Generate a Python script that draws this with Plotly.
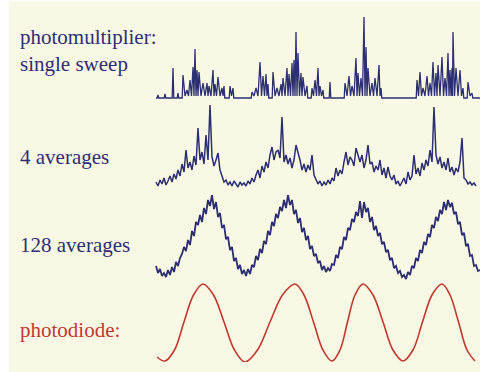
import numpy as np
import plotly.graph_objects as go

# ---------------- data (time in ms, signal heights in arbitrary units) ----------------
# single sweep: spike times (ms) and heights
sweep_t = [0.3, 1.0, 1.8, 2.3, 2.8, 3.2, 3.5, 3.8, 4.0, 4.2, 4.4, 4.8, 5.2, 5.4, 5.8, 6.0, 6.3, 6.7, 6.9, 7.5, 7.8,
           9.7, 10.1, 10.5, 10.8, 11.1, 11.3, 11.8, 12.2, 12.6, 12.8, 13.2, 13.4, 13.7, 13.9, 14.1, 14.3, 14.6, 14.8,
           15.2, 15.7, 16.0, 16.3, 16.5, 16.8, 17.5,
           19.0, 19.4, 19.7, 20.1, 20.3, 20.6, 20.9, 21.1, 21.3, 21.7, 22.0, 22.4, 22.6,
           26.2, 26.5, 26.8, 27.2, 27.5, 27.8, 28.1, 28.3, 28.7, 29.0, 29.3, 29.5, 29.7, 29.8, 30.1, 30.5, 30.8,
           31.3, 31.7]
sweep_h = [3, 4, 30, 5, 23, 8, 18, 31, 49, 28, 26, 15, 15, 12, 28, 14, 21, 10, 12, 12, 10,
           6, 10, 36, 22, 24, 14, 26, 10, 14, 20, 30, 24, 35, 38, 66, 45, 25, 21,
           12, 10, 18, 30, 12, 8, 16,
           15, 22, 12, 40, 25, 20, 81, 51, 30, 15, 20, 33, 10,
           18, 26, 10, 22, 15, 36, 25, 33, 41, 20, 45, 28, 30, 66, 30, 28, 10,
           16, 5]

# 4 averages: sampled every 0.2 ms from 0.1 ms
avg4 = [8, 4, 10, 6, 12, 5, 9, 14, 8, 16, 11, 20, 14, 26, 18, 40, 22, 28, 20, 34,
        25, 62, 30, 38, 26, 55, 30, 85, 33, 24, 30, 37, 20, 15, 8, 10, 5, 8, 4, 9,
        6, 3, 8, 5, 7, 4, 9, 6, 12, 8, 15, 20, 12, 24, 18, 28, 22, 35, 43, 30,
        38, 40, 32, 73, 28, 35, 26, 32, 22, 30, 45, 38, 30, 20, 26, 18, 25, 20, 35, 15,
        10, 6, 9, 4, 8, 5, 10, 6, 12, 9, 22, 14, 20, 16, 28, 38, 25, 33, 30, 24,
        42, 36, 28, 35, 22, 30, 45, 26, 28, 18, 24, 20, 30, 15, 22, 12, 23, 14, 10, 15,
        6, 9, 4, 8, 12, 6, 18, 10, 14, 35, 16, 22, 14, 27, 20, 30, 24, 40, 28, 83,
        35, 26, 33, 22, 28, 20, 32, 18, 23, 15, 22, 18, 28, 52, 12, 10, 6, 8, 5, 7, 4]

# 128 averages: sampled every 0.2 ms from 0.1 ms
avg128 = [14, 7, 11, 4, 7, 3, 10, 5, 13, 8, 18, 14, 22, 26, 33, 29, 40, 35, 49, 44,
          58, 55, 65, 58, 72, 66, 80, 74, 85, 71, 78, 63, 67, 52, 55, 41, 43, 30, 33, 19,
          22, 11, 15, 6, 10, 4, 11, 6, 15, 13, 24, 20, 31, 27, 39, 36, 49, 45, 58, 54,
          66, 62, 73, 69, 80, 72, 85, 75, 80, 66, 70, 57, 62, 48, 52, 40, 44, 31, 34, 24,
          26, 17, 19, 10, 14, 8, 12, 9, 16, 15, 25, 22, 33, 31, 43, 40, 52, 50, 61, 58,
          68, 64, 79, 62, 78, 68, 72, 58, 63, 50, 54, 44, 47, 36, 38, 28, 30, 20, 22, 12,
          14, 7, 9, 3, 5, 1, 8, 5, 14, 12, 22, 19, 30, 27, 38, 35, 46, 43, 55, 52,
          63, 59, 70, 66, 78, 70, 80, 73, 77, 66, 68, 56, 58, 45, 47, 34, 36, 24, 25, 14,
          15, 9, 10]

# photodiode: smooth reference signal, read at extrema and intermediate points
diode_t = [0.2, 1.0, 1.95, 2.9, 3.85, 4.8, 5.85, 6.9, 7.95, 9.0, 10.25, 11.5, 12.75, 14.0,
           14.9, 15.85, 16.8, 17.7, 18.5, 19.25, 20.0, 20.8, 21.8, 22.8, 23.8, 24.8,
           25.8, 26.75, 27.7, 28.7, 29.5, 30.35, 31.2, 32.0]
diode_h = [5, 1, 12, 40, 67, 78, 67, 40, 12, 0, 12, 40, 67, 78,
           67, 40, 12, 1, 12, 40, 67, 78, 67, 40, 12, 1,
           12, 40, 67, 78, 67, 40, 12, 1]

labels = ["photomultiplier:<br>single sweep", "4 averages", "128 averages", "photodiode:"]

# ---------------- build ----------------
navy = "#2c2f72"
red = "#c0392f"
cream = "#f9f8e4"

# single sweep polyline (spikes over a flat baseline)
sx, sy = [0.1], [0]
prev = -1.0
for t, h in zip(sweep_t, sweep_h):
    if t - prev > 0.45:
        sx += [max(prev + 0.08, 0.1), t - 0.08]
        sy += [0, 0]
    else:
        sx.append((prev + t) / 2)
        sy.append(2)
    sx.append(t)
    sy.append(h)
    prev = t
sx += [prev + 0.08, 32.5]
sy += [0, 0]

t4 = 0.1 + 0.2 * np.arange(len(avg4))
t128 = 0.1 + 0.2 * np.arange(len(avg128))

fig = go.Figure()
fig.add_trace(go.Scatter(x=sx, y=sy, mode="lines", line=dict(color=navy, width=1.3), yaxis="y"))
fig.add_trace(go.Scatter(x=t4, y=avg4, mode="lines", line=dict(color=navy, width=1.5), yaxis="y2"))
fig.add_trace(go.Scatter(x=t128, y=avg128, mode="lines", line=dict(color=navy, width=1.8), yaxis="y3"))
fig.add_trace(go.Scatter(x=diode_t, y=diode_h, mode="lines",
                         line=dict(color=red, width=1.6, shape="spline", smoothing=1.0), yaxis="y4"))

H = 372.0
def dom(top, bottom):
    return [1 - bottom / H, 1 - top / H]

ax = dict(visible=False, fixedrange=True)
fig.update_layout(
    width=480, height=372,
    margin=dict(l=0, r=0, t=0, b=0),
    paper_bgcolor="white", plot_bgcolor="rgba(0,0,0,0)",
    showlegend=False,
    xaxis=dict(range=[-15.5, 32.5], domain=[0, 1], **ax),
    yaxis=dict(range=[-1, 83], domain=dom(15, 99), **ax),
    yaxis2=dict(range=[0, 87], domain=dom(103, 190), **ax),
    yaxis3=dict(range=[0, 85], domain=dom(195, 280), **ax),
    yaxis4=dict(range=[0, 80], domain=dom(282, 362), **ax),
    shapes=[dict(type="rect", xref="paper", yref="paper", x0=9 / 480, x1=1, y0=0, y1=1 - 1.5 / H,
                 fillcolor=cream, line=dict(width=0), layer="below")],
)

label_y = [50, 157, 245, 330]
label_col = [navy, navy, navy, red]
for txt, yy, col in zip(labels, label_y, label_col):
    fig.add_annotation(text=txt, xref="paper", yref="paper", x=18 / 480, y=1 - yy / H,
                       xanchor="left", yanchor="middle", align="left", showarrow=False,
                       font=dict(family="Liberation Serif", size=21, color=col))

fig.write_html("out.html")
